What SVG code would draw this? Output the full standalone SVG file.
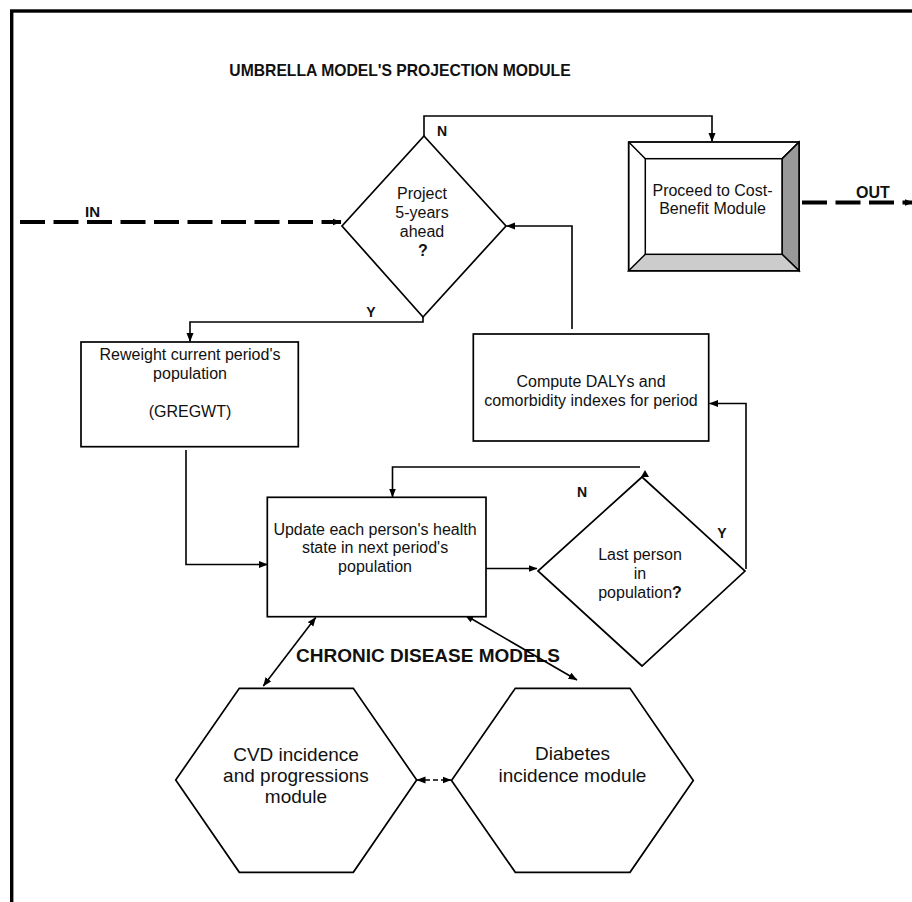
<svg xmlns="http://www.w3.org/2000/svg" width="912" height="902" viewBox="0 0 912 902">
<style>
  .box { fill: #fff; stroke: #000; stroke-width: 1.7; }
  .t { font-family: "Liberation Sans", Arial, sans-serif; font-size: 16px; fill: #111; text-anchor: middle; }
  .big { font-size: 19px; }
  .b { font-family: "Liberation Sans", Arial, sans-serif; font-weight: bold; fill: #111; }
  .lbl { font-size: 14px; text-anchor: middle; }
  .c { fill: none; stroke: #000; stroke-width: 1.6; }
  .dash { fill: none; stroke: #000; stroke-width: 4; stroke-dasharray: 25 8.5; }
</style>
<defs>
  <marker id="ah" markerWidth="9" markerHeight="8" refX="8.5" refY="4" orient="auto-start-reverse" markerUnits="userSpaceOnUse">
    <path d="M0,0.5 L9,4 L0,7.5 z" fill="#000"/>
  </marker>
</defs>
<rect x="0" y="0" width="912" height="902" fill="#fff"/>
<rect x="11.7" y="11" width="960" height="960" fill="none" stroke="#000" stroke-width="3.4"/>

<text class="b" x="400" y="76" font-size="15.7" text-anchor="middle">UMBRELLA MODEL'S PROJECTION MODULE</text>
<text class="b" x="428" y="662" font-size="19" text-anchor="middle">CHRONIC DISEASE MODELS</text>

<g id="connectors">
  <path class="dash" d="M20,222 L341,222" marker-end="url(#ah)"/>
  <path class="dash" d="M802,202.5 L913,202.5" marker-end="url(#ah)"/>
  <path class="c" d="M424,136 L424,116 L712,116 L712,141.5" marker-end="url(#ah)"/>
  <path class="c" d="M423,317 L423,322 L190,322 L190,341.5" marker-end="url(#ah)"/>
  <path class="c" d="M186,450 L186,564.5 L267.5,564.5" marker-end="url(#ah)"/>
  <path class="c" d="M486,568.5 L537,568.5" marker-end="url(#ah)"/>
  <path class="c" d="M640,467 L392.5,467 L392.5,497" marker-end="url(#ah)"/>
  <polygon points="645,470 641,477 649,477" fill="#000"/>
  <path class="c" d="M746,569 L746,403.5 L709.5,403.5" marker-end="url(#ah)"/>
  <path class="c" d="M572,329 L572,226 L506.5,226" marker-end="url(#ah)"/>
  <path class="c" d="M315.7,617.5 L263.3,686" marker-start="url(#ah)" marker-end="url(#ah)"/>
  <path class="c" d="M465,615 L577,680" marker-start="url(#ah)" marker-end="url(#ah)"/>
  <path class="c" d="M417,780 L451,780" stroke-dasharray="5 3" marker-start="url(#ah)" marker-end="url(#ah)"/>
</g>

<text class="b" x="85" y="217" font-size="15">IN</text>
<text class="b" x="856" y="198" font-size="16">OUT</text>
<text class="b lbl" x="442" y="136">N</text>
<text class="b lbl" x="371" y="316.5">Y</text>
<text class="b lbl" x="582" y="497">N</text>
<text class="b lbl" x="722" y="537.5">Y</text>

<g id="project-diamond">
  <polygon class="box" points="424,136 506,226 423,317 342,226"/>
  <text class="t" x="422" y="199">Project</text>
  <text class="t" x="422" y="218">5-years</text>
  <text class="t" x="422" y="237">ahead</text>
  <text class="t" x="423" y="256" font-weight="bold">?</text>
</g>

<g id="cost-benefit">
  <rect x="628.7" y="142" width="170.3" height="128.7" fill="#fff" stroke="#000" stroke-width="1.8"/>
  <polygon points="799,142 799,270.7 782,254.3 782,158.7" fill="#999" stroke="#000" stroke-width="1.5"/>
  <polygon points="628.7,270.7 799,270.7 782,254.3 645.3,254.3" fill="#ccc" stroke="#000" stroke-width="1.5"/>
  <path d="M628.7,142 L645.3,158.7 M799,142 L782,158.7" stroke="#000" stroke-width="1.5"/>
  <rect x="645.3" y="158.7" width="136.7" height="95.6" fill="#fff" stroke="#000" stroke-width="1.5"/>
  <text class="t" x="712.5" y="196">Proceed to Cost-</text>
  <text class="t" x="712.5" y="214">Benefit Module</text>
</g>

<g id="reweight">
  <rect class="box" x="81" y="342" width="217.3" height="104.7"/>
  <text class="t" x="190" y="360">Reweight current period's</text>
  <text class="t" x="190" y="379">population</text>
  <text class="t" x="190" y="417">(GREGWT)</text>
</g>

<g id="compute">
  <rect class="box" x="473.3" y="334" width="235.4" height="107"/>
  <text class="t" x="591" y="387">Compute DALYs and</text>
  <text class="t" x="591" y="406">comorbidity indexes for period</text>
</g>

<g id="update">
  <rect class="box" x="267.3" y="497.3" width="218.7" height="119.4"/>
  <text class="t" x="375" y="534.5">Update each person's health</text>
  <text class="t" x="375" y="553">state in next period's</text>
  <text class="t" x="375" y="571.5">population</text>
</g>

<g id="last-person">
  <polygon class="box" points="642,477 745,571 642,666 538,571"/>
  <text class="t" x="640" y="560">Last person</text>
  <text class="t" x="640" y="579">in</text>
  <text class="t" x="640" y="598">population<tspan font-weight="bold">?</tspan></text>
</g>

<g id="cvd">
  <polygon class="box" points="239.3,688.3 353.3,688.3 416.7,780 353.3,872.3 239.3,872.3 175.7,780"/>
  <text class="t big" x="296" y="761">CVD incidence</text>
  <text class="t big" x="296" y="782">and progressions</text>
  <text class="t big" x="296" y="803">module</text>
</g>

<g id="diabetes">
  <polygon class="box" points="515.3,688.3 630,688.3 693.3,780.5 630,872.3 515.3,872.3 451.5,780.5"/>
  <text class="t big" x="572.5" y="760">Diabetes</text>
  <text class="t big" x="572.5" y="781.5">incidence module</text>
</g>
</svg>
